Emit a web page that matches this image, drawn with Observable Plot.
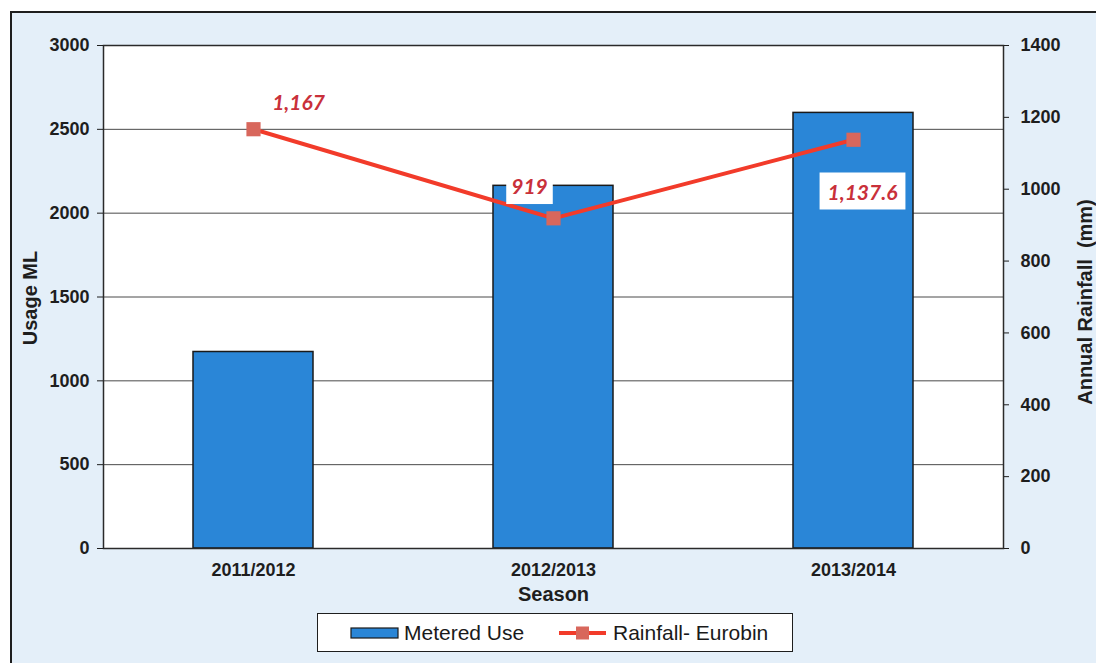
<!DOCTYPE html>
<html>
<head>
<meta charset="utf-8">
<script src="https://cdn.jsdelivr.net/npm/d3@7"></script>
<script src="https://cdn.jsdelivr.net/npm/@observablehq/plot@0.6"></script>
<style>
  html, body { margin: 0; padding: 0; background: #ffffff; }
  body { width: 1096px; height: 663px; overflow: hidden; position: relative; font-family: "Liberation Sans", Arial, sans-serif; }
  #panel { position: absolute; left: 10px; top: 11px; width: 1100px; height: 660px; border: 2px solid #1e1e1e; background: #e4eff9; }
  #chart { position: absolute; left: 0; top: 0; }
  #legend { position: absolute; left: 317px; top: 613px; width: 474px; height: 37px; border: 1.5px solid #1e1e1e; background: #ffffff; }
  #legend svg { display: block; }
</style>
</head>
<body>
<div id="panel"></div>
<div id="chart"></div>
<div id="legend"></div>
<script>
// ---- data ----
const seasons = ["2011/2012", "2012/2013", "2013/2014"];
const meteredUse = [1172, 2163, 2598];          // Usage ML (left axis)
const rainfall = [1167, 919, 1137.6];           // Annual rainfall mm (right axis)
const rainfallLabels = ["1,167", "919", "1,137.6"];
const usageTicks = [0, 500, 1000, 1500, 2000, 2500, 3000];
const rainTicks = [0, 200, 400, 600, 800, 1000, 1200, 1400];
const seriesNames = ["Metered Use", "Rainfall- Eurobin"];

const usageMax = 3000, rainMax = 1400;
const k = usageMax / rainMax; // map rainfall onto the shared y scale

const data = seasons.map((s, i) => ({
  season: s, use: meteredUse[i], rain: rainfall[i], rainY: rainfall[i] * k, label: rainfallLabels[i]
}));

const barBlue = "#2a86d7";
const lineRed = "#f23b2a";
const markerRed = "#d8675c";
const labelRed = "#c9303a";
const labelFont = "Lato, 'Open Sans', sans-serif";

const labelStyle = { x: "season", y: "rainY", text: "label", fill: labelRed, fontSize: 21, fontWeight: "bold", fontStyle: "italic", fontFamily: labelFont };

const plot = Plot.plot({
  width: 1096, height: 663,
  marginLeft: 103, marginRight: 93, marginTop: 45, marginBottom: 115,
  style: { background: "transparent", fontFamily: "'Liberation Sans', Arial, sans-serif", overflow: "visible", color: "#1e1e1e" },
  x: { domain: seasons, paddingInner: 0.6, paddingOuter: 0.3, axis: null },
  y: { domain: [0, usageMax], axis: null },
  marks: [
    Plot.frame({ fill: "white", stroke: null }),
    Plot.ruleY(usageTicks.slice(1, -1), { stroke: "#4a4a4a", strokeWidth: 1 }),
    Plot.barY(data, { x: "season", y: "use", fill: barBlue, stroke: "#1a1a1a", strokeWidth: 1.5 }),
    Plot.frame({ stroke: "#2a2a2a", strokeWidth: 1.5 }),
    Plot.axisY({ anchor: "left", ticks: usageTicks, tickFormat: d => String(d), tickSize: 6, tickPadding: 8, fontSize: 18, fontWeight: "bold", label: null }),
    Plot.axisY({ anchor: "right", ticks: rainTicks.map(v => v * k), tickFormat: d => String(Math.round(d / k)), tickSize: 5, tickPadding: 12, fontSize: 18, fontWeight: "bold", label: null }),
    Plot.axisX({ tickSize: 0, tickPadding: 15, fontSize: 18, fontWeight: "bold", label: null }),
    Plot.line(data, { x: "season", y: "rainY", stroke: lineRed, strokeWidth: 4 }),
    Plot.dot(data, { x: "season", y: "rainY", symbol: "square", r: 8, fill: markerRed, stroke: null }),
    Plot.text([data[0]], { ...labelStyle, dx: 45, dy: -26 }),
    Plot.text([data[1]], { ...labelStyle, dx: -24, dy: -31 }),
    Plot.text([data[2]], { ...labelStyle, dx: 9, dy: 53 }),
    Plot.text(["Season"], { frameAnchor: "bottom", dy: 52, text: d => d, fontSize: 20, fontWeight: "bold", fill: "#1e1e1e" }),
    Plot.text(["Usage ML"], { frameAnchor: "left", dx: -73, dy: 1, rotate: -90, textAnchor: "middle", text: d => d, fontSize: 20, fontWeight: "bold", fill: "#1e1e1e" }),
    Plot.text(["Annual Rainfall  (mm)"], { frameAnchor: "right", dx: 82, dy: 5, rotate: -90, textAnchor: "middle", text: d => d, fontSize: 20, fontWeight: "bold", fill: "#1e1e1e" })
  ]
});

document.getElementById("chart").appendChild(plot);

// white boxes behind the 2nd and 3rd data labels
const textGroups = plot.querySelectorAll('g[aria-label="text"]');
[1, 2].forEach(gi => {
  const g = textGroups[gi];
  if (!g) return;
  const t = g.querySelector("text");
  const b = t.getBBox();
  const padX = gi === 1 ? 5 : 8, padY = 6;
  const r = document.createElementNS("http://www.w3.org/2000/svg", "rect");
  r.setAttribute("x", b.x - padX);
  r.setAttribute("y", b.y - padY);
  r.setAttribute("width", b.width + 2 * padX);
  r.setAttribute("height", b.height + 2 * padY);
  r.setAttribute("fill", "white");
  const tr = t.getAttribute("transform");
  if (tr) r.setAttribute("transform", tr);
  g.insertBefore(r, t);
});

// legend
const lg = d3.select("#legend").append("svg").attr("width", 474).attr("height", 37)
  .style("font-family", "'Liberation Sans', Arial, sans-serif");
lg.append("rect").attr("x", 33).attr("y", 14).attr("width", 47).attr("height", 10)
  .attr("fill", barBlue).attr("stroke", "#1a1a1a").attr("stroke-width", 1.2);
lg.append("text").attr("x", 86).attr("y", 26).attr("font-size", 21).attr("fill", "#1a1a1a").text(seriesNames[0]);
lg.append("line").attr("x1", 241).attr("x2", 288).attr("y1", 19).attr("y2", 19)
  .attr("stroke", lineRed).attr("stroke-width", 4);
lg.append("rect").attr("x", 258).attr("y", 12.5).attr("width", 13).attr("height", 13).attr("fill", markerRed);
lg.append("text").attr("x", 295).attr("y", 26).attr("font-size", 21).attr("fill", "#1a1a1a").text(seriesNames[1]);
</script>
</body>
</html>
